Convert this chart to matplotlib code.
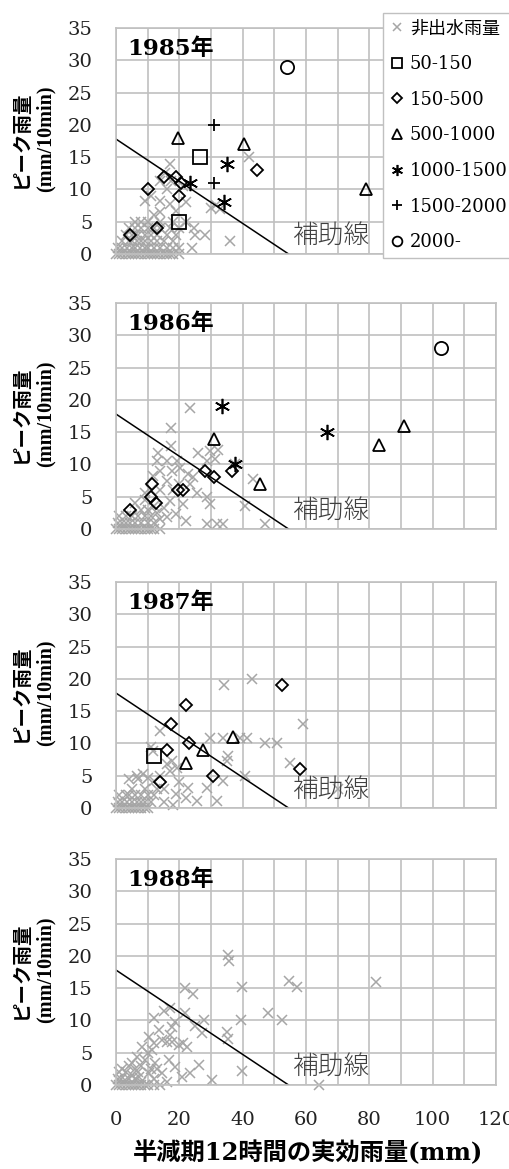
import numpy as np
import matplotlib.pyplot as plt
from matplotlib.lines import Line2D

plt.rcParams['font.family'] = ['DejaVu Serif', 'Noto Sans CJK JP']
plt.rcParams['xtick.labelsize'] = 14
plt.rcParams['ytick.labelsize'] = 14
plt.rcParams['xtick.major.pad'] = 19
plt.rcParams['ytick.major.pad'] = 17
plt.rcParams['xtick.major.size'] = 0
plt.rcParams['ytick.major.size'] = 0
plt.rcParams['xtick.minor.size'] = 0
plt.rcParams['ytick.minor.size'] = 0
plt.rcParams['xtick.color'] = '#222222'
plt.rcParams['ytick.color'] = '#222222'

# ---- datos ----
years = ['1985年', '1986年', '1987年', '1988年']
labels = ['非出水雨量', '50-150', '150-500', '500-1000', '1000-1500', '1500-2000', '2000-']

# linea auxiliar (補助線)
aux_x = [0, 54.5]
aux_y = [17.8, 0]

# eventos sin crecida (x, y)
nf_1985 = [(0,0),(1,0),(2,0),(3,0),(4,0),(5,0),(6,0),(7,0),(8,0),(9,0),(10,0),(11,0),(12,0),(13,0),
           (14,0),(15,0),(16,0),(17,0),(18,0),(20,0),
           (0.5,1),(2,1),(3.5,1),(5,1),(6,1),(7.5,1),(9,1),(10,1),(12,1),(14,1),(16,1),(18,1),(20,1),(24,1),
           (2,2),(4,2),(5,2),(6.5,2),(8,2),(9,2),(11,2),(13,2),(15,2),(18,2),
           (3,3),(5,3),(6,3),(7,3),(9,3),(11,3),(13,3),(16,3),(19,3),(25,3),(28,3),
           (4,4),(6,4),(8,4),(10,4),(12,4),(14,4),(17,4),(20,4),(24.5,4),
           (6,5),(8,5),(10,5),(14,5),(18,5),(22,5),
           (12,6),(14,6.5),(19,6.7),(9,8.2),(14,8.2),(17,7.7),(22,8),(11,9),(16,10),(14,11.3),
           (17.5,11.3),(15.5,12.6),(17,14),(21,10.5),(30,7.2),(31.5,7.6),(32.8,7),(42,15),(36,2)]
nf_1986 = [(0,0),(1,0),(2,0),(3,0),(4,0),(5,0),(6,0),(7,0),(8,0),(9,0),(10,0),(11,0),(12,0),(14,0),
           (0.5,1),(2,1),(3,1),(4.5,1),(6,1),(8,1),(10,1),(12,1),(14,1.5),
           (1,2),(3,2),(5,2),(7,2),(9,2),(11,2),(13,2.5),
           (8,3),(10,3),(12,3.5),(6,4),(9,4.5),(11,6),(9,5.5),
           (15,3.3),(16,1.8),(19,2.3),(22,1.2),(21,3.8),(17,4.3),(14,6),(18,6),(16,7.5),(20,7),
           (23.4,6.9),(25.5,5.6),(28.6,4.9),(29.7,3.8),(28.6,0.7),(31.8,0.7),(33.9,0.7),(40.7,3.6),
           (43.4,7.8),(47,0.8),
           (11.8,8.2),(13.9,9),(17.6,9),(12.8,10.5),(16,10.5),(19.2,10.5),(20.2,9.5),(22.8,8.5),(24.4,8),
           (13.4,11.8),(17.4,12.9),(17.4,15.7),(23.4,18.8),(26,11.8),(29.7,12.1),(32.3,12.3),
           (31.3,10.8),(28.6,10.5),(37.6,10)]
nf_1987 = [(0,0),(1,0),(2,0),(3,0),(4,0),(5,0),(6,0),(7,0),(8,0),(9,0),(10,0),
           (0.5,1),(2,1),(3.5,1),(5,1),(6.5,1),(8,1),(9,1),(11,1),(15,1),(18,0.5),(22,1.5),
           (1,2),(3,2),(4,2),(6,2),(8,2),(10,2),(12,2),(19,2.1),
           (5,3),(9,3),(13,3),(15,3),(22.8,3.1),(28.6,3.1),(25.5,1.1),(31.8,1.1),(20,4),
           (4,4.5),(7,4.5),(10,4.7),(12,4.2),(14,5),(6.5,5),(8.6,5.2),(16,6.8),(17.6,7.3),(19.2,6.2),
           (17,5.7),(11.8,8.8),(11,9.5),(14,12),
           (29.7,10.9),(33.9,10.9),(39.2,10.9),(41.3,10.9),(47,10.1),(50.7,10),(55,7),(35.5,8.1),
           (35,7.3),(40.7,5),(33.9,4.2),(34.2,19),(42.8,20),(58.9,13),(70,3)]
nf_1988 = [(0,0),(1,0),(2,0),(3,0),(4,0),(5,0),(6,0),(7,0),(8,0),(9,0),(10,0),(12,0),(14,0),
           (0.5,1),(1.5,1),(2.9,0.8),(4,1),(5,1.5),(6,1),(7.2,1.3),(8,0.5),(10.3,1.8),(12,1),(14.5,1.8),
           (16,0.5),(20.8,1.3),(23.5,1.8),(30.3,0.8),(64,0),
           (1,2),(2,2.5),(3,2),(4,3),(5.1,3.4),(6,2.5),(7,2),(8,3),(9.3,3.9),(11,2.5),(12.4,3.4),(13,2.5),
           (16.6,3.9),(18.7,2.8),(26.1,3.1),(39.8,2.1),
           (6.6,4.4),(8.2,5.9),(10,5),(11.4,5.4),(10.3,7.5),(12,6.5),(13.5,8.5),(14.5,7),(16.1,6.7),
           (17.7,6.7),(17.2,7.7),(19.8,6.2),(22.4,5.9),(21,6.5),
           (17.7,9),(18.7,9.8),(11.9,10.3),(15.1,11.4),(17.2,11.9),
           (21.9,15),(24.2,14.1),(21.7,11.1),(24.8,9.1),(27.2,8.1),(27.9,10.1),(35.1,8.2),(35.3,7.2),
           (35.4,20.1),(35.8,19.2),(39.8,15.1),(39.6,10.1),(48,11.1),(52.4,10.1),(54.5,16.1),(57.2,15.1),
           (82,16)]

# eventos con crecida por clase
sq_1985 = [(26.5,15),(20,5)]
di_1985 = [(4.5,3),(13,4),(10,10),(15,12),(19,12),(20.5,11),(20,9),(44.5,13)]
tr_1985 = [(19.5,18),(40.5,17),(79,10)]
as_1985 = [(35,14),(23.5,11),(34,8)]
pl_1985 = [(31,20),(31,11)]
ci_1985 = [(54,29)]

di_1986 = [(4.5,3),(11.5,7),(11,5),(12.5,4),(19.5,6),(21,6),(28,9),(31,8),(36.5,9)]
tr_1986 = [(31,14),(45.5,7),(83,13),(91,16)]
as_1986 = [(33.5,19),(37.5,10),(66.5,15)]
ci_1986 = [(102.5,28)]

sq_1987 = [(12,8)]
di_1987 = [(22,16),(17.5,13),(23,10),(16,9),(14,4),(30.5,5),(52.5,19),(58,6)]
tr_1987 = [(27.5,9),(22,7),(37,11)]

series = [
    [nf_1985, sq_1985, di_1985, tr_1985, as_1985, pl_1985, ci_1985],
    [nf_1986, [], di_1986, tr_1986, as_1986, [], ci_1986],
    [nf_1987, sq_1987, di_1987, tr_1987, [], [], []],
    [nf_1988, [], [], [], [], [], []],
]

# estilos de marcador
estilos = [
    dict(marker='x', color='#a6a6a6', ms=7, mew=1.1),
    dict(marker='s', ms=9.5, mfc='none', mec='k', mew=1.3),
    dict(marker='D', ms=6.5, mfc='none', mec='k', mew=1.3),
    dict(marker='^', ms=9, mfc='none', mec='k', mew=1.3),
    dict(marker=(6, 2, 0), ms=11, mfc='none', mec='k', mew=1.2),
    dict(marker='+', ms=9, mfc='none', mec='k', mew=1.3),
    dict(marker='o', ms=9.5, mfc='none', mec='k', mew=1.3),
]
legend_ms = [6, 7, 5, 7, 8, 7, 7]

W, H = 509, 1169
tops = [28, 303, 582, 859]
gris = '#c0c0c0'

fig = plt.figure(figsize=(W/100, H/100), dpi=100)

for i, yr in enumerate(years):
    ax = fig.add_axes([116/W, 1-(tops[i]+226)/H, 380/W, 226/H])
    ax.set_xlim(0, 120)
    ax.set_ylim(0, 35)
    ax.set_xticks(np.arange(0, 121, 20))
    ax.set_xticks(np.arange(0, 121, 10), minor=True)
    ax.set_yticks(np.arange(0, 36, 5))
    ax.grid(True, which='both', color=gris, lw=1.2)
    ax.set_axisbelow(True)
    for s in ax.spines.values():
        s.set_color(gris)
        s.set_linewidth(1.2)
    if i < 3:
        ax.tick_params(labelbottom=False)
    else:
        ax.set_xlabel('半減期12時間の実効雨量(mm)', fontsize=17.5, fontweight='bold',
                      ha='left', va='center')
        ax.xaxis.set_label_coords(17/380, -0.30)

    # etiqueta del eje y en dos lineas (una fuente por linea, texto girado)
    ax.text(-0.25, 0.509, 'ピーク雨量', transform=ax.transAxes, rotation=90,
            rotation_mode='anchor', ha='center', va='center', fontsize=14,
            fontweight='bold', family='Noto Sans CJK JP')
    ax.text(-0.184, 0.509, '(mm/10min)', transform=ax.transAxes, rotation=90,
            rotation_mode='anchor', ha='center', va='center', fontsize=14.5,
            fontweight='bold', family='Liberation Serif')

    for pts, st in zip(series[i], estilos):
        if len(pts) == 0:
            continue
        xy = np.array(pts)
        ax.plot(xy[:, 0], xy[:, 1], ls='none', clip_on=False, **st)

    ax.plot(aux_x, aux_y, color='k', lw=1.1)
    ax.text(55.5, 2.8, '補助線', family='Noto Sans CJK JP', fontweight='light',
            fontsize=18.5, color='#404040', va='center', ha='left')
    ax.text(0.03, 0.955, yr, transform=ax.transAxes, fontsize=16.5, fontweight='bold',
            va='top', ha='left')

# leyenda
handles = []
for st, ms in zip(estilos, legend_ms):
    d = dict(st)
    d['ms'] = ms
    handles.append(Line2D([], [], ls='none', **d))
leg = fig.legend(handles, labels, loc='upper left', bbox_to_anchor=(382.7/W, 1-13/H),
                 borderaxespad=0, fontsize=13, frameon=True, fancybox=False,
                 edgecolor=gris, framealpha=1, borderpad=0.35, labelspacing=0.98,
                 handlelength=0.9, handletextpad=0.25)
leg.get_frame().set_linewidth(1.0)

plt.savefig('out.png', dpi=100)
